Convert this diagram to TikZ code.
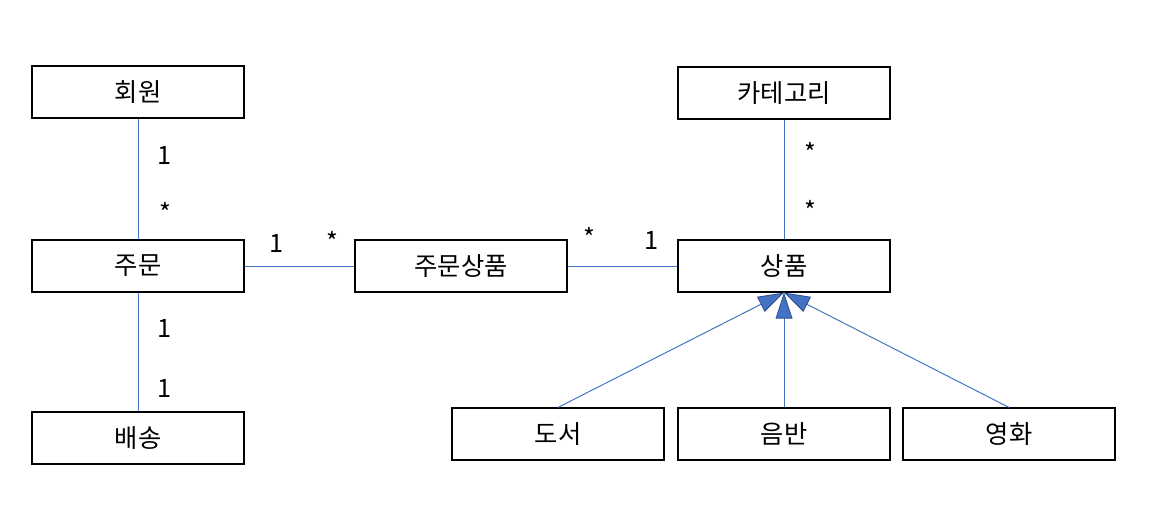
\documentclass[tikz,border=0pt]{standalone}
\usepackage{fontspec}
\setmainfont{Noto Sans CJK KR}
\usetikzlibrary{arrows.meta}
\definecolor{uml}{HTML}{4472C4}
\definecolor{umldark}{HTML}{2F528F}
\tikzset{cls/.style={draw,thick,minimum width=5.3cm,minimum height=1.3cm,inner sep=0pt},
  assoc/.style={uml,line width=.7pt},
  inherit/.style={uml,line width=.7pt,-{Triangle[length=6.5mm,width=4.2mm,color=umldark,fill=uml,line width=.6pt]}},
  mult/.style={inner sep=1pt}}
\begin{document}
\begin{tikzpicture}[x=.025cm,y=.025cm,font=\fontsize{18}{21}\selectfont]
\useasboundingbox (0,0) rectangle (1168,520);
\node[cls](member)at(138,428){회원};\node[cls](order)at(138,254){주문};\node[cls](delivery)at(138,82){배송};
\node[cls](orderitem)at(461,254){주문상품};\node[cls](item)at(784,254){상품};\node[cls](category)at(784,427){카테고리};
\node[cls](book)at(558,86){도서};\node[cls](album)at(784,86){음반};\node[cls](movie)at(1009,86){영화};
\draw[assoc](member)--(order);\draw[assoc](order)--(delivery);\draw[assoc](category)--(item);
\draw[assoc](order)--(orderitem);\draw[assoc](orderitem)--(item);
\foreach\c in{book,album,movie}{\draw[inherit](\c.north)--(item.south);}
% multiplicities
\foreach\x/\y/\t in{165/365/1,165/308/*,165/192/1,165/132/1,277/277/1,332/279/*,589/283/*,652/280/1,810/368/*,810/310/*}{\node[mult]at(\x,\y){\t};}
\end{tikzpicture}
\end{document}
